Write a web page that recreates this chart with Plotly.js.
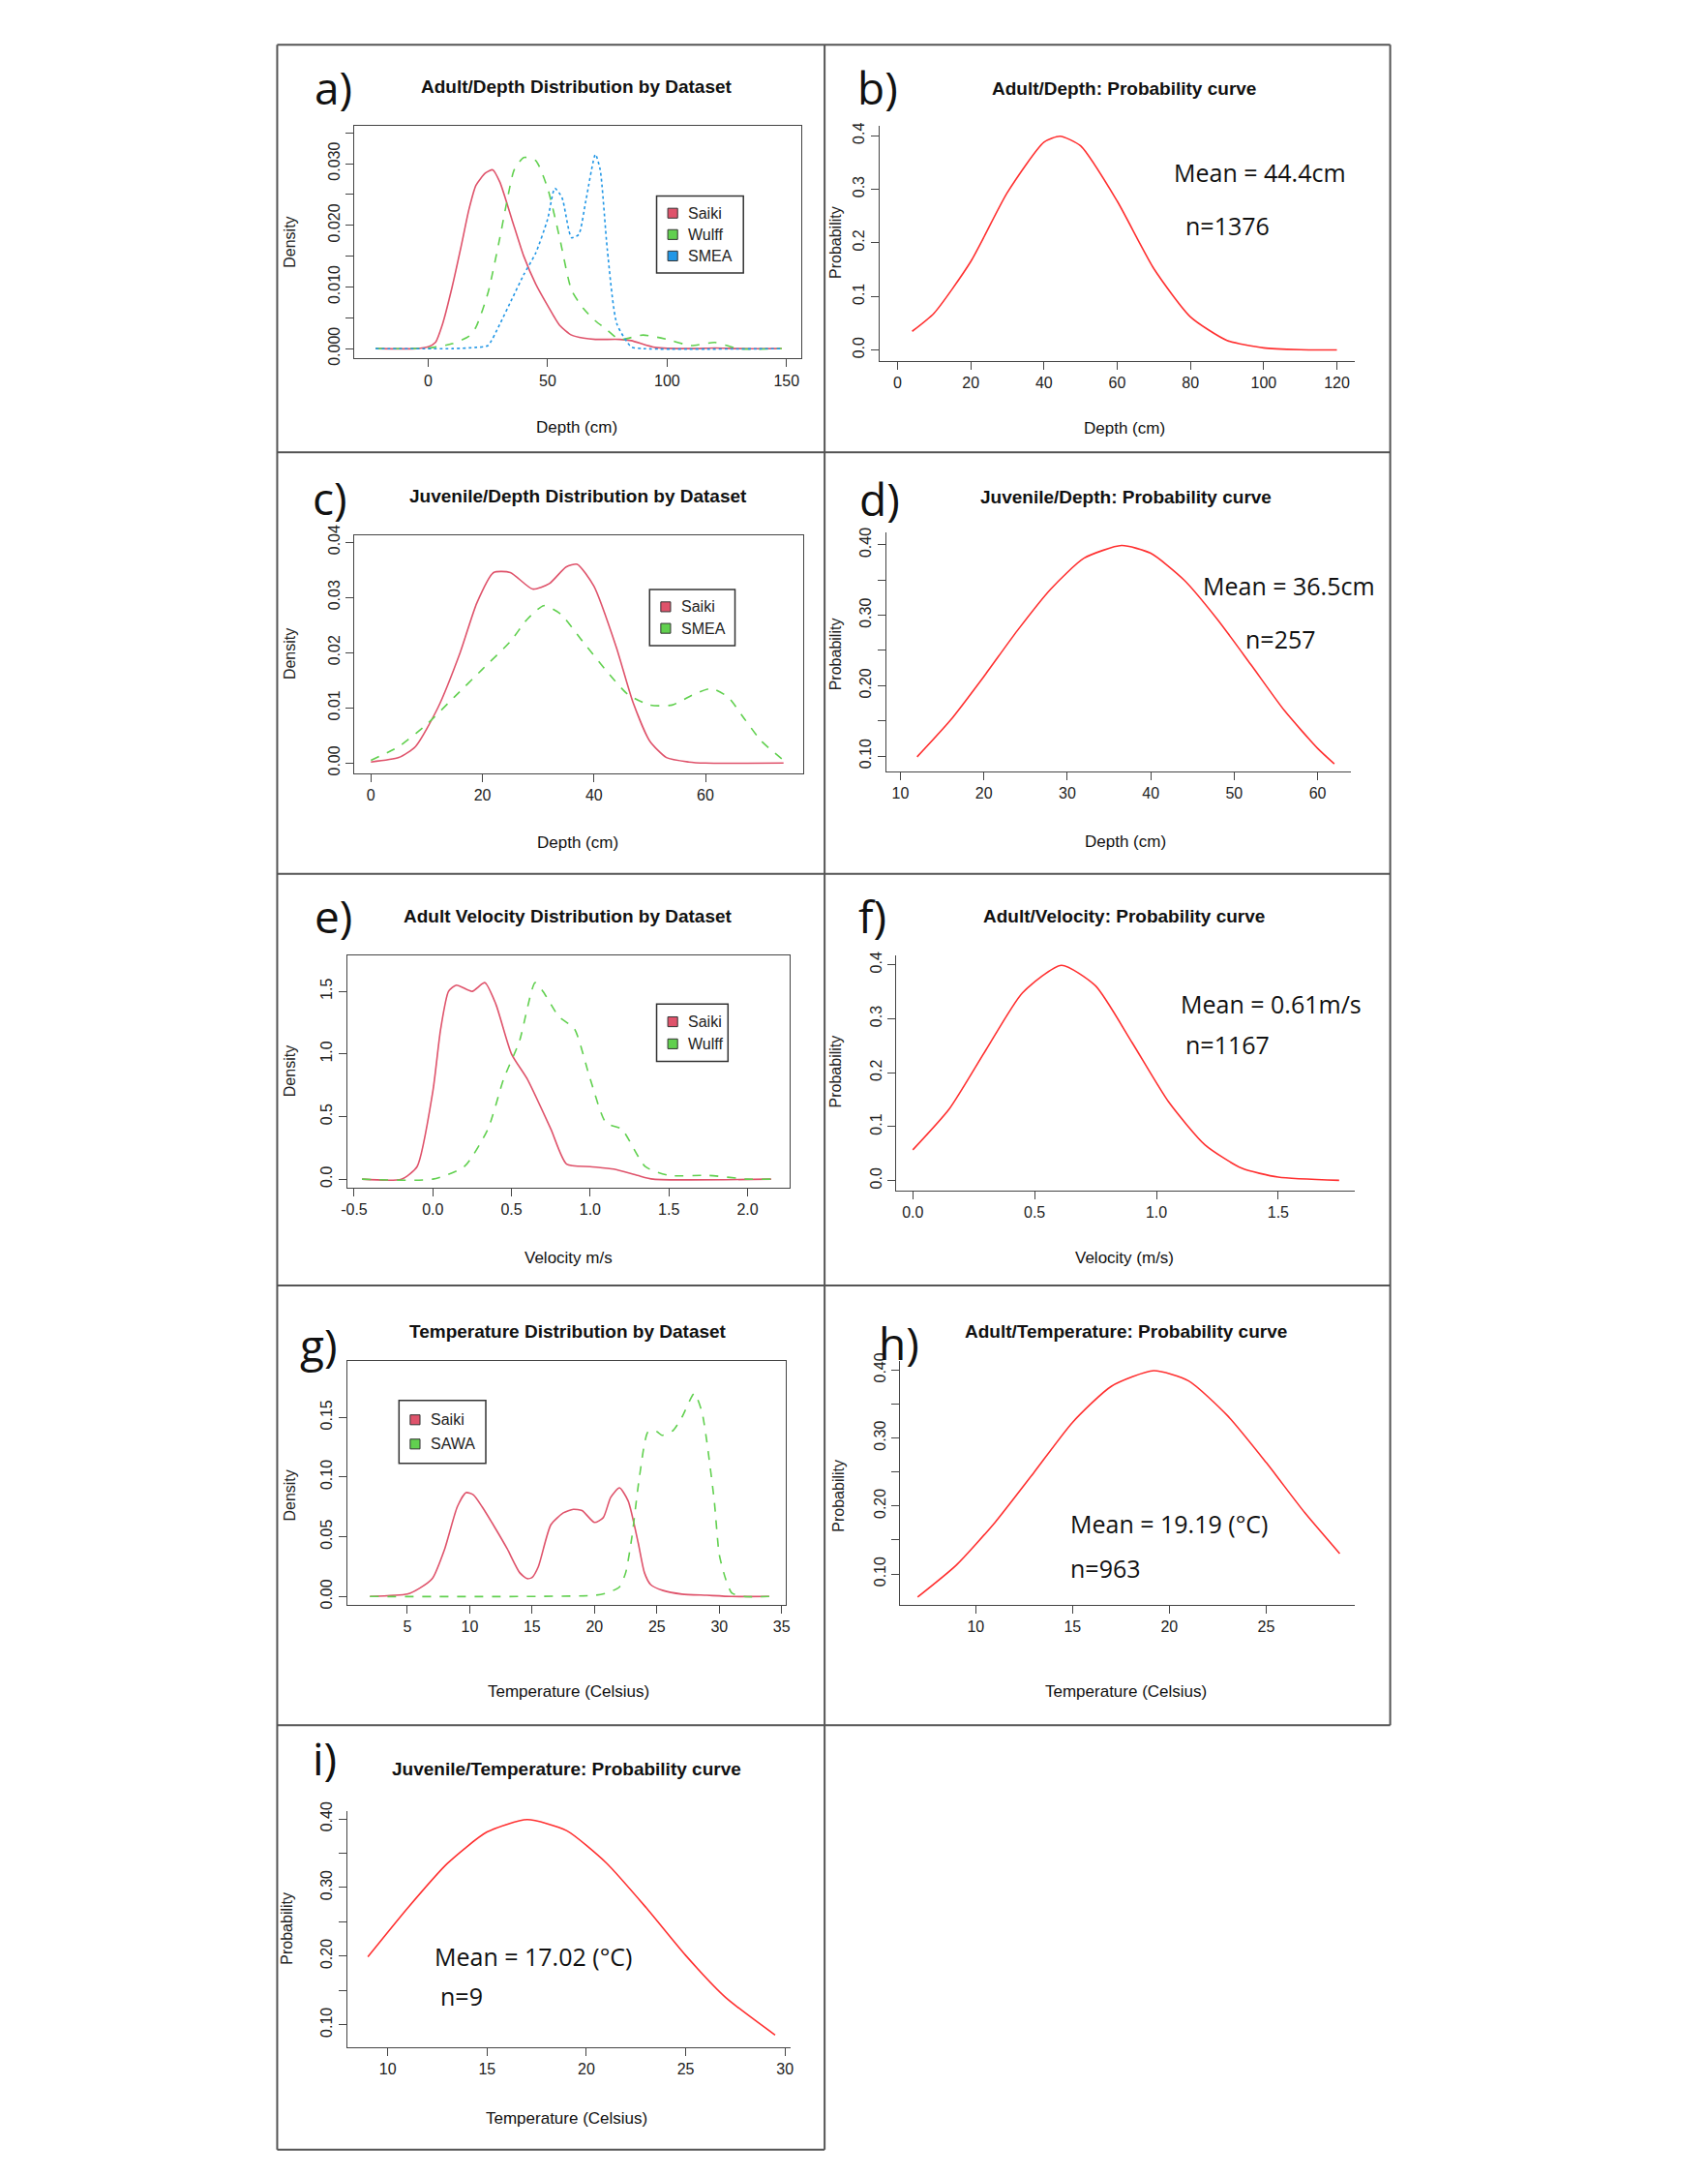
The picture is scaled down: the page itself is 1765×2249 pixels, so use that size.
<!DOCTYPE html>
<html>
<head>
<meta charset="utf-8">
<script src="https://cdn.plot.ly/plotly-3.0.1.min.js"></script>
<style>body{margin:0;background:#fff}#chart{width:1765px;height:2249px}</style>
</head>
<body>
<div id="chart"></div>
<script>
// ---- data ----
// a) adult depth density
var aSaikiX = [-22,-5,0,3,6,10,14,17,20,24,27,30,35,40,45,50,55,60,65,70,80,85,95,110,120,130,148];
var aSaikiY = [0,0,0.0003,0.001,0.004,0.010,0.017,0.0225,0.0265,0.0285,0.029,0.027,0.021,0.015,0.0105,0.007,0.0038,0.0022,0.0017,0.0015,0.0015,0.0013,0.0002,0,0.0001,0,0];
var aWulffX = [-22,0,10,17,20,25,30,33,36,40,45,50,55,60,65,70,75,80,90,100,110,120,130,148];
var aWulffY = [0,0.0001,0.0008,0.002,0.0035,0.009,0.018,0.024,0.029,0.031,0.0305,0.026,0.018,0.0095,0.0065,0.0045,0.003,0.0015,0.0022,0.0015,0.0005,0.001,0,0];
var aSmeaX = [-22,10,20,25,30,35,40,45,50,53,56,60,63,66,70,72,75,79,85,90,148];
var aSmeaY = [0,0,0.0002,0.0005,0.004,0.008,0.012,0.0155,0.021,0.026,0.0245,0.018,0.0185,0.024,0.0315,0.029,0.016,0.004,0.0003,0,0];
// c) juvenile depth density
var cSaikiX = [0,5,8,12,16,19,22,25,29,32,35,37,40,44,47,50,53,57,60,74];
var cSaikiY = [0.0002,0.001,0.003,0.010,0.020,0.029,0.0345,0.0345,0.0315,0.0325,0.0355,0.036,0.032,0.021,0.011,0.004,0.001,0.0002,0,0];
var cSmeaX = [0,5,10,15,20,25,28,31,34,38,42,46,50,54,58,61,64,67,70,74];
var cSmeaY = [0.0005,0.003,0.007,0.012,0.017,0.022,0.026,0.0285,0.027,0.022,0.017,0.0125,0.0105,0.0105,0.0125,0.0135,0.012,0.008,0.004,0.0005];
// e) adult velocity density
var eSaikiX = [-0.45,-0.2,-0.1,0,0.05,0.1,0.15,0.25,0.33,0.4,0.5,0.6,0.75,0.85,1.0,1.15,1.3,1.4,2.15];
var eSaikiY = [0,0,0.1,0.7,1.2,1.5,1.55,1.5,1.57,1.4,1.0,0.8,0.4,0.12,0.1,0.08,0.03,0,0];
var eWulffX = [-0.45,0,0.2,0.35,0.45,0.55,0.65,0.7,0.8,0.9,1.0,1.1,1.2,1.35,1.5,1.75,2.0,2.15];
var eWulffY = [0,0,0.1,0.4,0.8,1.1,1.57,1.5,1.3,1.2,0.8,0.45,0.4,0.1,0.03,0.03,0,0];
// g) temperature density
var gSaikiX = [2,5,6,7,8,9,9.7,10.3,11,12,13,14,14.6,15,15.5,16.5,17.5,18.3,19,20,20.7,21.3,22,22.7,23.5,24,24.5,25.5,27,29,31,34];
var gSaikiY = [0,0.002,0.007,0.015,0.04,0.075,0.087,0.085,0.075,0.058,0.04,0.02,0.015,0.016,0.025,0.06,0.07,0.073,0.072,0.062,0.066,0.083,0.091,0.08,0.045,0.02,0.01,0.005,0.002,0.001,0,0];
var gSawaX = [2,20,21,22,22.5,23,23.6,24.3,25,25.4,26.3,27,28,28.6,29,29.6,30,30.5,31,32,34];
var gSawaY = [0,0.001,0.003,0.008,0.02,0.05,0.10,0.138,0.138,0.135,0.139,0.15,0.17,0.155,0.13,0.08,0.035,0.015,0.003,0,0];
// probability curves
var bX = [4,10,20,30,40,44.4,50,60,70,80,90,100,110,120];
var bY = [0.035,0.069,0.165,0.294,0.388,0.399,0.381,0.278,0.152,0.062,0.018,0.004,0.0007,0.0001];
var dX = [12,16,20,24,28,32,36.5,40,44,48,52,56,60,62];
var dY = [0.099,0.151,0.213,0.278,0.337,0.381,0.399,0.388,0.350,0.294,0.230,0.165,0.111,0.089];
var fX = [0,0.15,0.3,0.45,0.61,0.75,0.9,1.05,1.2,1.35,1.5,1.75];
var fY = [0.057,0.133,0.242,0.348,0.399,0.361,0.256,0.146,0.066,0.023,0.0065,0.0005];
var hX = [7,9,11,13,15,17,19.19,21,23,25,27,28.8];
var hY = [0.066,0.113,0.176,0.249,0.323,0.376,0.399,0.384,0.333,0.264,0.190,0.130];
var iX = [9,11,13,15,17.02,19,21,23,25,27,29.5];
var iY = [0.199,0.270,0.335,0.381,0.399,0.383,0.336,0.271,0.201,0.14,0.085];

var RED = '#DF536B', GREEN = '#61D04F', BLUE = '#2297E6', PRED = '#FF3030';

// display px -> paper (reference was measured on a 1220px-wide view)
var S = 1765 / 1220;
function px(x) { return x * S / 1765; }
function py(y) { return 1 - y * S / 2249; }

var FONT = 'Liberation Sans Narrow, Liberation Sans, Arial';
var traces = [], layout = {
  width: 1765, height: 2249, margin: {l: 0, r: 0, t: 0, b: 0},
  paper_bgcolor: '#fff', plot_bgcolor: '#fff', showlegend: false,
  font: {family: FONT, color: '#222', size: 16},
  shapes: [], annotations: []
};

function panel(n, box, xr, yr, xt, yt, opts) {
  var xa = {domain: [px(box[0]), px(box[1])], range: xr, anchor: 'y' + n,
    showgrid: false, zeroline: false, showline: true, linecolor: '#444',
    mirror: opts.frame, ticks: 'outside', ticklen: 8, tickcolor: '#444',
    tickvals: xt, tickfont: {size: 16, family: 'Liberation Sans'}};
  var ya = {domain: [py(box[3]), py(box[2])], range: yr, anchor: 'x' + n,
    showgrid: false, zeroline: false, showline: true, linecolor: '#444',
    mirror: opts.frame, ticks: 'outside', ticklen: 8, tickcolor: '#444',
    tickvals: yt, ticktext: opts.yl, tickangle: -90, tickfont: {size: 16, family: 'Liberation Sans'}};
  if (opts.minor) ya.minor = {dtick: opts.minor, ticks: 'outside', ticklen: 8, tickcolor: '#444'};
  var k = n === 1 ? '' : n;
  layout['xaxis' + k] = xa; layout['yaxis' + k] = ya;
}
function line(n, x, y, color, dash) {
  traces.push({x: x, y: y, type: 'scatter', mode: 'lines', xaxis: 'x' + n, yaxis: 'y' + n,
    line: {color: color, width: 1.6, dash: dash || 'solid', shape: 'spline', smoothing: 0.6}});
}
function text(x, y, t, size, bold, font) {
  layout.annotations.push({xref: 'paper', yref: 'paper', x: px(x), y: py(y), text: bold ? '<b>' + t + '</b>' : t,
    showarrow: false, font: {size: size, family: font || FONT, color: '#111'}, xanchor: 'center', yanchor: 'middle'});
}
function vtext(x, y, t) {
  layout.annotations.push({xref: 'paper', yref: 'paper', x: px(x), y: py(y), text: t, textangle: -90,
    showarrow: false, font: {size: 16, family: 'Liberation Sans'}, xanchor: 'center', yanchor: 'middle'});
}
function legend(x0, y0, x1, y1, names, colors) {
  layout.shapes.push({type: 'rect', xref: 'paper', yref: 'paper', x0: px(x0), x1: px(x1), y0: py(y1), y1: py(y0),
    line: {color: '#333', width: 1.5}, fillcolor: '#fff'});
  var step = (y1 - y0) / (names.length + 0.6);
  names.forEach(function (nm, i) {
    var cy = y0 + step * (i + 0.8);
    layout.shapes.push({type: 'rect', xref: 'paper', yref: 'paper', x0: px(x0 + 8), x1: px(x0 + 15),
      y0: py(cy + 3.5), y1: py(cy - 3.5), line: {color: '#333', width: 1}, fillcolor: colors[i]});
    layout.annotations.push({xref: 'paper', yref: 'paper', x: px(x0 + 21), y: py(cy), text: nm, showarrow: false,
      xanchor: 'left', yanchor: 'middle', font: {size: 16, family: FONT}});
  });
}
function border(x0, y0, x1, y1) {
  layout.shapes.push({type: 'line', xref: 'paper', yref: 'paper', x0: px(x0), x1: px(x1), y0: py(y0), y1: py(y1),
    line: {color: '#555', width: 2}});
}

// a)
panel(1, [253, 572, 90, 256], [-31, 156], [-0.0016, 0.0361], [0, 50, 100, 150], [0, 0.01, 0.02, 0.03],
  {frame: true, yl: ['0.000', '0.010', '0.020', '0.030'], minor: 0.005});
line(1, aSaikiX, aSaikiY, RED); line(1, aWulffX, aWulffY, GREEN, 'dash'); line(1, aSmeaX, aSmeaY, BLUE, 'dot');
legend(469, 140, 531, 195, ['Saiki', 'Wulff', 'SMEA'], [RED, GREEN, BLUE]);
// b)
panel(2, [628, 968, 90, 258], [-5, 125], [-0.021, 0.418], [0, 20, 40, 60, 80, 100, 120], [0, 0.1, 0.2, 0.3, 0.4],
  {frame: false, yl: ['0.0', '0.1', '0.2', '0.3', '0.4']});
line(2, bX, bY, PRED);
// c)
panel(3, [253, 574, 382, 552], [-3, 77.6], [-0.0018, 0.0413], [0, 20, 40, 60], [0, 0.01, 0.02, 0.03, 0.04],
  {frame: true, yl: ['0.00', '0.01', '0.02', '0.03', '0.04']});
line(3, cSaikiX, cSaikiY, RED); line(3, cSmeaX, cSmeaY, GREEN, 'dash');
legend(464, 421, 525, 461, ['Saiki', 'SMEA'], [RED, GREEN]);
// d)
panel(4, [633, 965, 380, 551], [8.3, 64], [0.078, 0.418], [10, 20, 30, 40, 50, 60], [0.1, 0.2, 0.3, 0.4],
  {frame: false, yl: ['0.10', '0.20', '0.30', '0.40'], minor: 0.05});
line(4, dX, dY, PRED);
// e)
panel(5, [248, 564, 682, 848], [-0.544, 2.267], [-0.067, 1.79], [-0.5, 0, 0.5, 1, 1.5, 2], [0, 0.5, 1, 1.5],
  {frame: true, yl: ['0.0', '0.5', '1.0', '1.5']});
layout.xaxis5.ticktext = ['-0.5', '0.0', '0.5', '1.0', '1.5', '2.0'];
line(5, eSaikiX, eSaikiY, RED); line(5, eWulffX, eWulffY, GREEN, 'dash');
legend(469, 717, 520, 758, ['Saiki', 'Wulff'], [RED, GREEN]);
// f)
panel(6, [640, 968, 682, 850], [-0.069, 1.816], [-0.018, 0.418], [0, 0.5, 1, 1.5], [0, 0.1, 0.2, 0.3, 0.4],
  {frame: false, yl: ['0.0', '0.1', '0.2', '0.3', '0.4']});
layout.xaxis6.ticktext = ['0.0', '0.5', '1.0', '1.5'];
line(6, fX, fY, PRED);
// g)
panel(7, [248, 561, 972, 1146], [0.18, 35.3], [-0.007, 0.197], [5, 10, 15, 20, 25, 30, 35], [0, 0.05, 0.1, 0.15],
  {frame: true, yl: ['0.00', '0.05', '0.10', '0.15']});
line(7, gSaikiX, gSaikiY, RED); line(7, gSawaX, gSawaY, GREEN, 'dash');
legend(285, 1000, 347, 1045, ['Saiki', 'SAWA'], [RED, GREEN]);
// h)
panel(8, [643, 968, 972, 1146], [6.1, 29.6], [0.0546, 0.413], [10, 15, 20, 25], [0.1, 0.2, 0.3, 0.4],
  {frame: false, yl: ['0.10', '0.20', '0.30', '0.40'], minor: 0.05});
line(8, hX, hY, PRED);
// i)
panel(9, [248, 565, 1293, 1462], [7.96, 30.3], [0.067, 0.412], [10, 15, 20, 25, 30], [0.1, 0.2, 0.3, 0.4],
  {frame: false, yl: ['0.10', '0.20', '0.30', '0.40'], minor: 0.05});
line(9, iX, iY, PRED);

// titles, panel letters, axis titles
var titles = [[412, 62, 'Adult/Depth Distribution by Dataset'], [803, 63, 'Adult/Depth: Probability curve'],
  [413, 354, 'Juvenile/Depth Distribution by Dataset'], [804, 355, 'Juvenile/Depth: Probability curve'],
  [406, 654, 'Adult Velocity Distribution by Dataset'], [803, 654, 'Adult/Velocity: Probability curve'],
  [406, 951, 'Temperature Distribution by Dataset'], [804, 951, 'Adult/Temperature: Probability curve'],
  [405, 1263, 'Juvenile/Temperature: Probability curve']];
titles.forEach(function (t) { text(t[0], t[1], t[2], 19, true); });
var letters = [[238, 62, 'a)'], [627, 62, 'b)'], [236, 355, 'c)'], [628, 356, 'd)'], [238, 654, 'e)'],
  [623, 654, 'f)'], [228, 960, 'g)'], [642, 959, 'h)'], [232, 1255, 'i)']];
letters.forEach(function (t) { text(t[0], t[1], t[2], 46, false, 'Open Sans'); });
var xt = [[412, 305, 'Depth (cm)'], [803, 306, 'Depth (cm)'], [413, 602, 'Depth (cm)'], [804, 601, 'Depth (cm)'],
  [406, 898, 'Velocity m/s'], [803, 898, 'Velocity (m/s)'], [406, 1208, 'Temperature (Celsius)'],
  [804, 1208, 'Temperature (Celsius)'], [405, 1513, 'Temperature (Celsius)']];
xt.forEach(function (t) { text(t[0], t[1], t[2], 17, false); });
[[207, 173, 'Density'], [597, 173, 'Probability'], [207, 467, 'Density'], [597, 467, 'Probability'],
 [207, 765, 'Density'], [597, 765, 'Probability'], [207, 1068, 'Density'], [599, 1068, 'Probability'],
 [205, 1377, 'Probability']].forEach(function (t) { vtext(t[0], t[1], t[2]); });

// mean / n notes
[[900, 123, 'Mean = 44.4cm'], [877, 161, 'n=1376'], [921, 418, 'Mean = 36.5cm'], [915, 456, 'n=257'],
 [908, 717, 'Mean = 0.61m/s'], [877, 746, 'n=1167'], [835, 1088, 'Mean = 19.19 (°C)'], [790, 1120, 'n=963'],
 [381, 1397, 'Mean = 17.02 (°C)'], [330, 1425, 'n=9']].forEach(function (t) { text(t[0], t[1], t[2], 25, false, 'Open Sans'); });

// panel frames
border(198, 32, 993, 32); border(198, 323, 993, 323); border(198, 624, 993, 624);
border(198, 918, 993, 918); border(198, 1232, 993, 1232); border(198, 1535, 589, 1535);
border(198, 32, 198, 1535); border(589, 32, 589, 1535); border(993, 32, 993, 1232);

Plotly.newPlot('chart', traces, layout, {staticPlot: true});
</script>
</body>
</html>
